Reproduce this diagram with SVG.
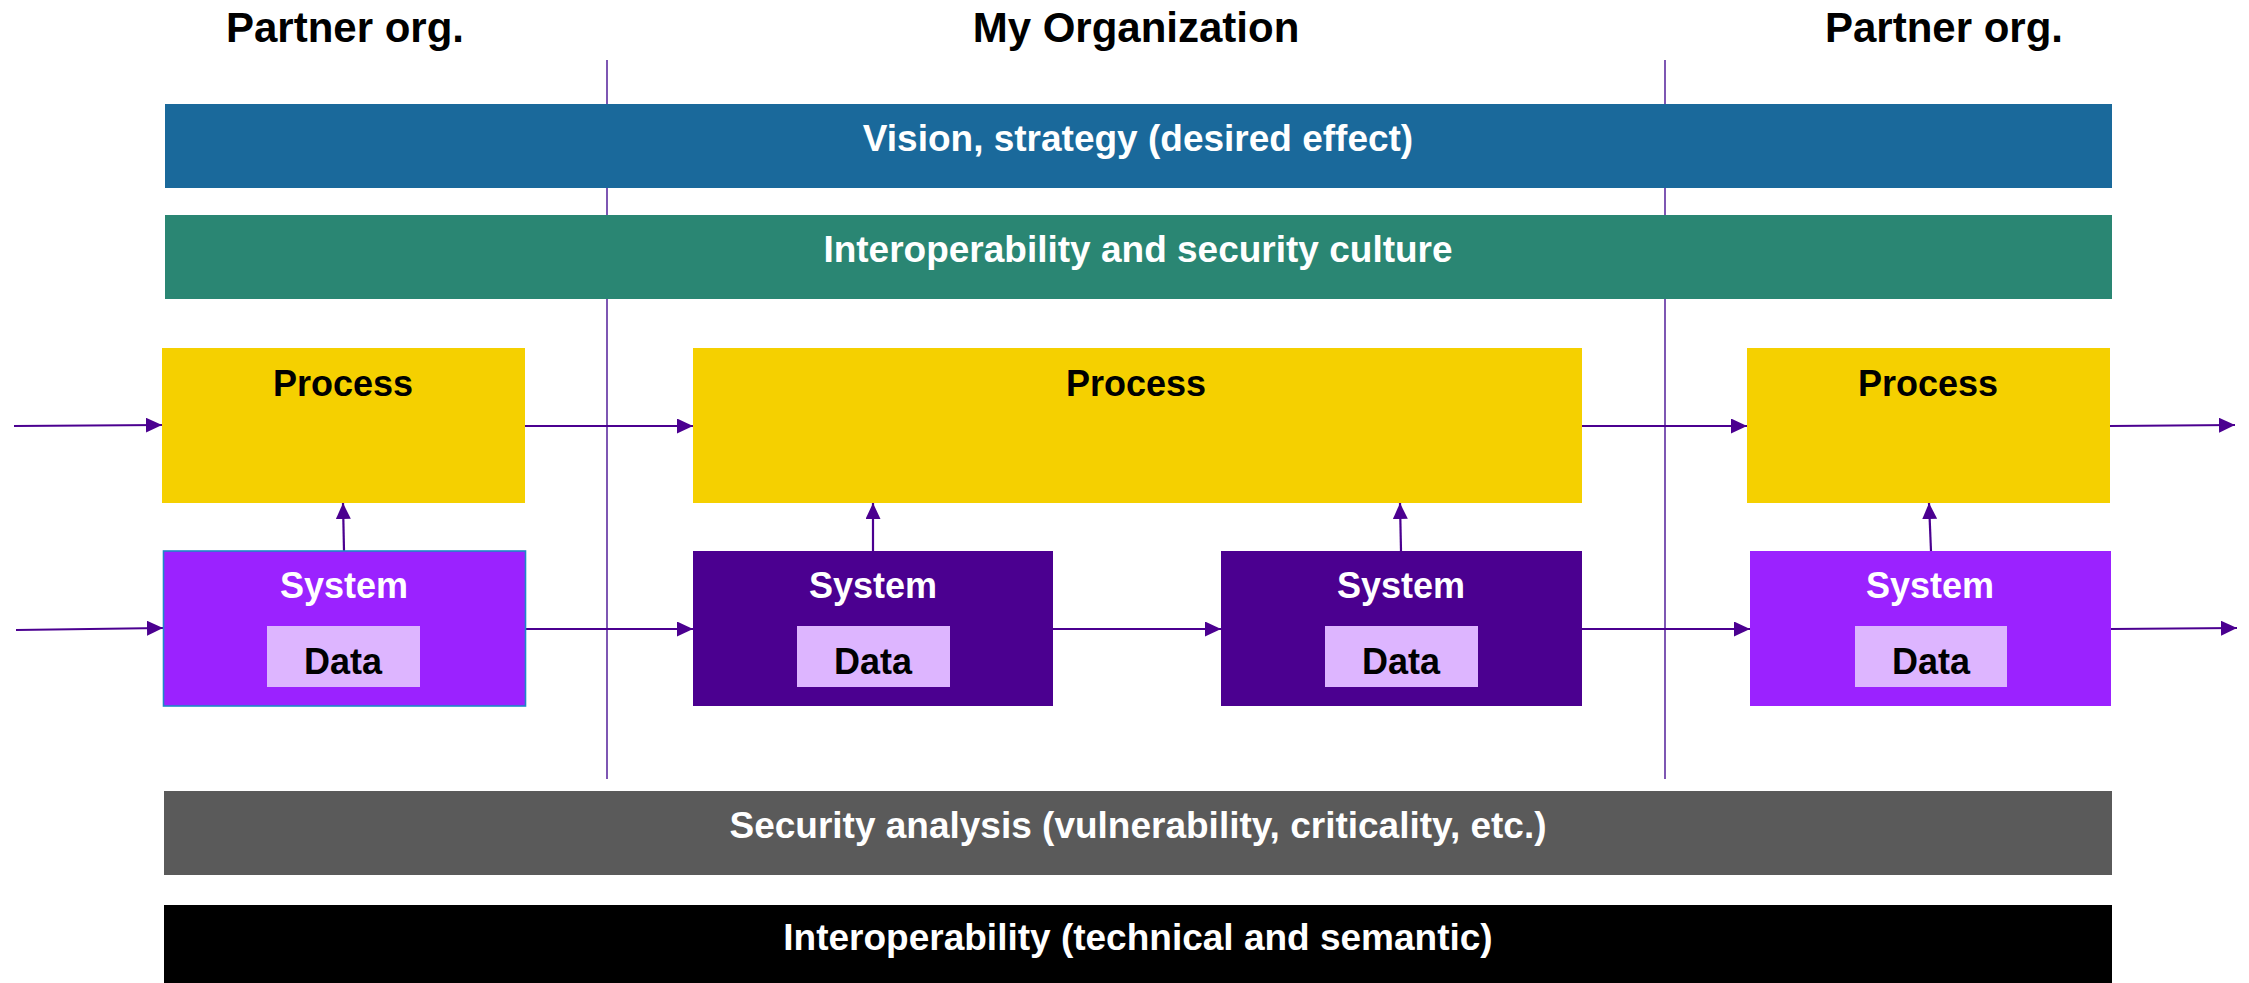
<svg xmlns="http://www.w3.org/2000/svg" width="2249" height="983" viewBox="0 0 2249 983">
<style>
text{font-family:"Liberation Sans",Arial,sans-serif;font-weight:bold;text-anchor:middle}
.title{font-size:42px;fill:#000}
.bar{font-size:37px;fill:#fff}
.lbl{font-size:36px}
.proc{fill:#F5D000}
.sysl{fill:#9B22FF}
.sysd{fill:#4B0090}
.data{fill:#DDB5FF}
.div{stroke:#5E2CA0;stroke-width:1.6;fill:none}
.arr{stroke:#4B0090;stroke-width:2.2;fill:none;marker-end:url(#ah)}
</style>
<defs>
<marker id="ah" markerUnits="userSpaceOnUse" markerWidth="17" markerHeight="16" refX="16" refY="7.5" orient="auto">
<path d="M0,0 L16,7.5 L0,15 z" fill="#4B0090"/>
</marker>
</defs>
<rect width="2249" height="983" fill="#fff"/>
<g id="dividers">
<line class="div" x1="607" y1="60" x2="607" y2="779"/>
<line class="div" x1="1665" y1="60" x2="1665" y2="779"/>
</g>
<g id="titles">
<text class="title" x="345" y="42">Partner org.</text>
<text class="title" x="1136" y="42">My Organization</text>
<text class="title" x="1944" y="42">Partner org.</text>
</g>
<g id="vision">
<rect x="165" y="104" width="1947" height="84" fill="#1A699B"/>
<text class="bar" x="1138" y="151">Vision, strategy (desired effect)</text>
</g>
<g id="culture">
<rect x="165" y="215" width="1947" height="84" fill="#2A8673"/>
<text class="bar" x="1138" y="262">Interoperability and security culture</text>
</g>
<g id="connectors">
<line class="arr" x1="14" y1="426" x2="162" y2="425"/>
<line class="arr" x1="525" y1="426" x2="693" y2="426"/>
<line class="arr" x1="1582" y1="426" x2="1747" y2="426"/>
<line class="arr" x1="2110" y1="426" x2="2235" y2="425"/>
<line class="arr" x1="16" y1="630" x2="163" y2="628"/>
<line class="arr" x1="525" y1="629" x2="693" y2="629"/>
<line class="arr" x1="1053" y1="629" x2="1221" y2="629"/>
<line class="arr" x1="1582" y1="629" x2="1750" y2="629"/>
<line class="arr" x1="2111" y1="629" x2="2237" y2="628"/>
<line class="arr" x1="344" y1="551" x2="343" y2="503"/>
<line class="arr" x1="873" y1="551" x2="873" y2="503"/>
<line class="arr" x1="1401" y1="551" x2="1400" y2="503"/>
<line class="arr" x1="1931" y1="551" x2="1929" y2="503"/>
</g>
<g id="process1">
<rect class="proc" x="162" y="348" width="363" height="155"/>
<text class="lbl" x="343" y="396">Process</text>
</g>
<g id="process2">
<rect class="proc" x="693" y="348" width="889" height="155"/>
<text class="lbl" x="1136" y="396">Process</text>
</g>
<g id="process3">
<rect class="proc" x="1747" y="348" width="363" height="155"/>
<text class="lbl" x="1928" y="396">Process</text>
</g>
<g id="system1">
<rect class="sysl" x="163.5" y="551" width="362" height="155" stroke="#1E88C8" stroke-width="1.6"/>
<text class="lbl" x="344" y="598" fill="#fff">System</text>
<rect class="data" x="267" y="626" width="153" height="61"/>
<text class="lbl" x="343" y="674">Data</text>
</g>
<g id="system2">
<rect class="sysd" x="693" y="551" width="360" height="155"/>
<text class="lbl" x="873" y="598" fill="#fff">System</text>
<rect class="data" x="797" y="626" width="153" height="61"/>
<text class="lbl" x="873" y="674">Data</text>
</g>
<g id="system3">
<rect class="sysd" x="1221" y="551" width="361" height="155"/>
<text class="lbl" x="1401" y="598" fill="#fff">System</text>
<rect class="data" x="1325" y="626" width="153" height="61"/>
<text class="lbl" x="1401" y="674">Data</text>
</g>
<g id="system4">
<rect class="sysl" x="1750" y="551" width="361" height="155"/>
<text class="lbl" x="1930" y="598" fill="#fff">System</text>
<rect class="data" x="1855" y="626" width="152" height="61"/>
<text class="lbl" x="1931" y="674">Data</text>
</g>
<g id="security">
<rect x="164" y="791" width="1948" height="84" fill="#5A5A5A"/>
<text class="bar" x="1138" y="838">Security analysis (vulnerability, criticality, etc.)</text>
</g>
<g id="interop">
<rect x="164" y="905" width="1948" height="80" fill="#000"/>
<text class="bar" x="1138" y="950">Interoperability (technical and semantic)</text>
</g>
</svg>
